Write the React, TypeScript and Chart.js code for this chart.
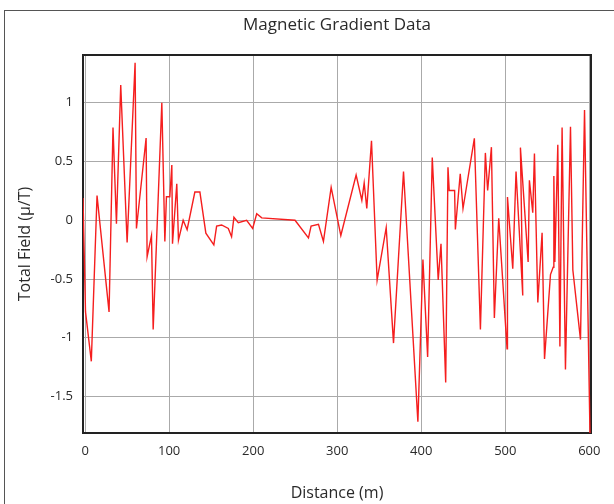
import React, { useEffect, useRef } from "react";
import { Chart, registerables } from "chart.js";

Chart.register(...registerables);

const TITLE = "Magnetic Gradient Data";
const X_TITLE = "Distance (m)";
const Y_TITLE = "Total Field (μ/T)";

const X_TICKS = [0, 100, 200, 300, 400, 500, 600];
const Y_TICKS = [-1.5, -1, -0.5, 0, 0.5, 1];

const DISTANCE = [
  -2.5, 0.5, 7.4, 14.2, 28.5, 33.2, 37.3, 42.4, 50.0, 59.5,
  61.1, 72.6, 73.8, 79.0, 81.0, 91.3, 94.9, 96.8, 100.8, 103.2,
  104.0, 109.1, 111.1, 116.7, 121.4, 130.6, 136.6, 143.7, 153.2, 156.5,
  162.4, 170.4, 174.3, 177.1, 182.3, 192.2, 199.4, 204.2, 210.2, 249.8,
  265.8, 268.9, 277.7, 283.6, 292.8, 304.3, 322.5, 329.3, 332.1, 335.2,
  340.8, 347.5, 358.3, 367.0, 378.9, 396.0, 402.0, 407.6, 413.1, 420.2,
  423.5, 429.1, 431.8, 433.3, 439.7, 440.6, 446.4, 449.7, 463.2, 470.4,
  476.3, 479.0, 483.5, 487.0, 492.2, 502.1, 502.6, 508.9, 512.8, 520.8,
  518.0, 527.2, 528.7, 532.7, 534.7, 538.7, 543.8, 546.7, 553.8, 557.0,
  557.8, 559.0, 562.5, 565.0, 567.6, 571.6, 577.6, 580.4, 589.5, 594.3,
  601.0,
];

const FIELD = [
  0.19, -0.78, -1.2, 0.21, -0.78, 0.79, -0.03, 1.15, -0.19, 1.34,
  -0.07, 0.7, -0.31, -0.13, -0.93, 1.0, -0.18, 0.2, 0.2, 0.47,
  -0.2, 0.31, -0.17, 0.0, -0.08, 0.24, 0.24, -0.11, -0.21, -0.05,
  -0.04, -0.07, -0.14, 0.025, -0.02, 0.0, -0.07, 0.055, 0.02, 0.0,
  -0.15, -0.05, -0.035, -0.18, 0.28, -0.13, 0.385, 0.17, 0.317, 0.1,
  0.677, -0.51, -0.063, -1.045, 0.415, -1.715, -0.334, -1.163, 0.534, -0.507,
  -0.201, -1.38, 0.45, 0.253, 0.253, -0.078, 0.396, 0.1, 0.697, -0.93,
  0.573, 0.253, 0.622, -0.832, 0.017, -1.094, 0.198, -0.413, 0.415, -0.64,
  0.618, -0.354, 0.34, 0.065, 0.568, -0.699, -0.107, -1.18, -0.462, -0.4,
  0.376, -0.354, 0.642, -1.074, 0.79, -1.27, 0.795, -0.423, -1.015, 0.938,
  -1.9,
];

const FONT = "'Open Sans', 'Noto Sans', sans-serif";

const plotBorder = {
  id: "plotBorder",
  beforeDatasetsDraw(chart: any) {
    const { ctx, chartArea: a } = chart;
    ctx.save();
    ctx.strokeStyle = "#222";
    ctx.lineWidth = 2;
    ctx.strokeRect(a.left, a.top, a.right - a.left, a.bottom - a.top);
    ctx.restore();
  },
};

export default function App() {
  const ref = useRef<HTMLCanvasElement>(null);

  useEffect(() => {
    const chart = new Chart(ref.current as HTMLCanvasElement, {
      type: "line",
      data: {
        datasets: [
          {
            data: DISTANCE.map((x, i) => ({ x, y: FIELD[i] })),
            borderColor: "rgb(245,30,30)",
            borderWidth: 1.4,
            pointRadius: 0,
            tension: 0,
            fill: false,
          },
        ],
      },
      options: {
        responsive: false,
        animation: false,
        devicePixelRatio: 1,
        layout: { padding: { left: 0, right: 23, top: 0, bottom: 0 } },
        plugins: {
          legend: { display: false },
          tooltip: { enabled: false },
          title: {
            display: true,
            text: TITLE,
            fullSize: false,
            color: "#2a2a2a",
            font: { family: FONT, size: 17, weight: "normal" },
            padding: { top: 15, bottom: 19.6 },
          },
        },
        scales: {
          x: {
            type: "linear",
            min: -2.5,
            max: 602,
            afterBuildTicks: (s: any) => {
              s.ticks = X_TICKS.map((v) => ({ value: v }));
            },
            afterFit: (s: any) => {
              s.height = 71;
            },
            grid: { color: "#aaaaaa", lineWidth: 1, drawTicks: false },
            border: { display: false },
            ticks: {
              padding: 10,
              color: "#2a2a2a",
              font: { family: FONT, size: 13 },
              maxRotation: 0,
              autoSkip: false,
              callback: (v: any) => String(v),
            },
            title: {
              display: true,
              text: X_TITLE,
              color: "#2a2a2a",
              font: { family: FONT, size: 16 },
              padding: { top: 0, bottom: 1 },
            },
          },
          y: {
            type: "linear",
            min: -1.81,
            max: 1.406,
            afterBuildTicks: (s: any) => {
              s.ticks = Y_TICKS.map((v) => ({ value: v }));
            },
            afterFit: (s: any) => {
              s.width = 83;
            },
            grid: { color: "#aaaaaa", lineWidth: 1, drawTicks: false },
            border: { display: false },
            ticks: {
              padding: 10,
              color: "#2a2a2a",
              font: { family: FONT, size: 13 },
              autoSkip: false,
              callback: (v: any) => String(v),
            },
            title: {
              display: true,
              text: Y_TITLE,
              color: "#2a2a2a",
              font: { family: FONT, size: 16 },
              padding: { top: 16, bottom: 0 },
            },
          },
        },
      },
      plugins: [plotBorder],
    } as any);
    return () => chart.destroy();
  }, []);

  return (
    <div
      style={{
        position: "fixed",
        left: 0,
        top: 0,
        width: 614,
        height: 504,
        overflow: "hidden",
        background: "#fff",
      }}
    >
      <div
        style={{
          position: "absolute",
          left: 4,
          top: 10,
          width: 700,
          height: 600,
          borderLeft: "1px solid #555",
          borderTop: "1px solid #555",
        }}
      />
      <canvas
        ref={ref}
        width={614}
        height={504}
        style={{ position: "absolute", left: 0, top: 0, width: 614, height: 504 }}
      />
    </div>
  );
}
